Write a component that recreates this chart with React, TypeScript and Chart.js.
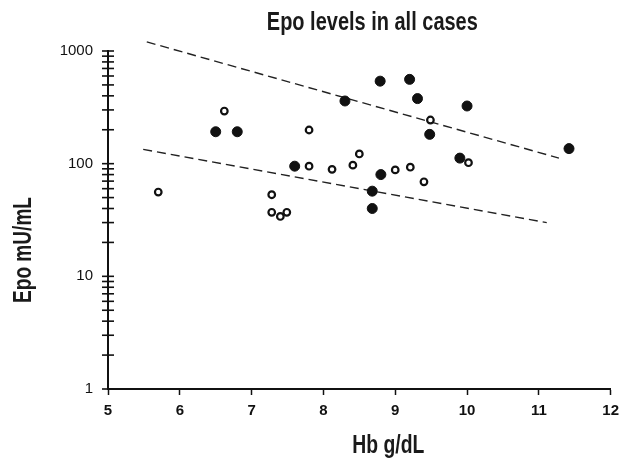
import React, { useEffect, useRef } from "react";
import { Chart, registerables } from "chart.js";

Chart.register(...registerables);

// ---- data ----
const filledHb = [6.5, 6.8, 7.6, 8.3, 8.79, 9.2, 9.31, 10.0, 9.48, 9.9, 11.42, 8.8, 8.68, 8.68];
const filledEpo = [192, 192, 95, 360, 540, 560, 378, 325, 182, 112, 136, 80, 57, 40];
const openHb = [5.7, 6.62, 7.8, 7.8, 8.12, 8.41, 8.5, 9.0, 9.21, 9.4, 9.49, 10.02, 7.28, 7.28, 7.4, 7.49];
const openEpo = [56, 293, 199, 95, 89, 97, 122, 88, 93, 69, 244, 102, 53, 37, 34, 37];
const upperHb = [5.54, 11.28];
const upperEpo = [1205, 112];
const lowerHb = [5.49, 11.11];
const lowerEpo = [134, 30];
const yTickValues = [
  1, 2, 3, 4, 5, 6, 7, 8, 9,
  10, 20, 30, 40, 50, 60, 70, 80, 90,
  100, 200, 300, 400, 500, 600, 700, 800, 900,
  1000,
];
const yLabelValues = [1, 10, 100, 1000];
const xTickValues = [5, 6, 7, 8, 9, 10, 11, 12];
const chartTitle = "Epo levels in all cases";
const xTitle = "Hb g/dL";
const yTitle = "Epo mU/mL";

const FONT = '"Liberation Sans", Arial, "DejaVu Sans", sans-serif';

function drawCondensed(
  ctx: CanvasRenderingContext2D,
  text: string,
  x: number,
  y: number,
  targetWidth: number,
  rotate: boolean
) {
  ctx.save();
  ctx.font = `bold 25px ${FONT}`;
  ctx.fillStyle = "#1a1a1a";
  ctx.textAlign = "center";
  ctx.textBaseline = "alphabetic";
  const w = ctx.measureText(text).width;
  ctx.translate(x, y);
  if (rotate) ctx.rotate(-Math.PI / 2);
  ctx.scale(targetWidth / w, 1);
  ctx.fillText(text, 0, 0);
  ctx.restore();
}

const decorPlugin = {
  id: "decor",
  afterDraw(chart: any) {
    const ctx: CanvasRenderingContext2D = chart.ctx;
    const ys = chart.scales.y;
    const left = chart.chartArea.left;
    ctx.save();
    ctx.strokeStyle = "#111";
    ctx.lineWidth = 1.6;
    yTickValues.forEach((v) => {
      const py = ys.getPixelForValue(v);
      ctx.beginPath();
      ctx.moveTo(left - 6, py);
      ctx.lineTo(left + 6, py);
      ctx.stroke();
    });
    ctx.restore();
    const area = chart.chartArea;
    const cx = (area.left + area.right) / 2;
    drawCondensed(ctx, chartTitle, cx + 13, 30, 211, false);
    drawCondensed(ctx, xTitle, cx + 29, 453, 72, false);
    drawCondensed(ctx, yTitle, 31, (area.top + area.bottom) / 2 + 30, 106, true);
  },
};

export default function App() {
  const ref = useRef<HTMLCanvasElement>(null);
  useEffect(() => {
    document.body.style.margin = "0";
    const canvas = ref.current!;
    const chart = new Chart(canvas, {
      type: "scatter",
      data: {
        datasets: [
          {
            label: "open",
            data: openHb.map((x, i) => ({ x, y: openEpo[i] })),
            pointRadius: 3.3,
            pointBorderWidth: 2.2,
            pointBackgroundColor: "#fff",
            pointBorderColor: "#111",
            backgroundColor: "#fff",
            borderColor: "#111",
          },
          {
            label: "filled",
            data: filledHb.map((x, i) => ({ x, y: filledEpo[i] })),
            pointRadius: 5,
            pointBorderWidth: 1,
            pointBackgroundColor: "#111",
            pointBorderColor: "#111",
            backgroundColor: "#111",
            borderColor: "#111",
          },
          {
            label: "upper",
            data: upperHb.map((x, i) => ({ x, y: upperEpo[i] })),
            showLine: true,
            pointRadius: 0,
            borderColor: "#222",
            borderWidth: 1.4,
            borderDash: [9, 5],
            clip: false,
          } as any,
          {
            label: "lower",
            data: lowerHb.map((x, i) => ({ x, y: lowerEpo[i] })),
            showLine: true,
            pointRadius: 0,
            borderColor: "#222",
            borderWidth: 1.4,
            borderDash: [9, 5],
            clip: false,
          } as any,
        ],
      },
      options: {
        responsive: false,
        devicePixelRatio: 1,
        animation: false,
        layout: { padding: { top: 51, right: 11, left: 0, bottom: 0 } },
        plugins: {
          legend: { display: false },
          tooltip: { enabled: false },
          title: { display: false },
        },
        scales: {
          x: {
            type: "linear",
            min: 5,
            max: 12,
            afterBuildTicks: (s: any) => {
              s.ticks = xTickValues.map((v) => ({ value: v }));
            },
            afterFit: (s: any) => {
              s.height = 70;
            },
            grid: {
              drawOnChartArea: false,
              drawTicks: true,
              tickLength: 6,
              color: "#111",
              tickWidth: 1.5,
            },
            border: { display: true, color: "#111", width: 2 },
            ticks: {
              color: "#111",
              font: { family: FONT, size: 15, weight: "bold" },
              padding: 7,
              maxRotation: 0,
              autoSkip: false,
            },
          },
          y: {
            type: "logarithmic",
            min: 1,
            max: 1000,
            afterBuildTicks: (s: any) => {
              s.ticks = yTickValues.map((v) => ({ value: v }));
            },
            afterFit: (s: any) => {
              s.width = 108;
            },
            grid: { drawOnChartArea: false, drawTicks: false, color: "#111" },
            border: { display: true, color: "#111", width: 2 },
            ticks: {
              color: "#111",
              font: { family: FONT, size: 15 },
              padding: 15,
              autoSkip: false,
              callback: (v: any) => (yLabelValues.includes(Number(v)) ? String(v) : ""),
            },
          },
        },
      } as any,
      plugins: [decorPlugin],
    });
    return () => chart.destroy();
  }, []);
  return (
    <div style={{ width: 626, height: 459 }}>
      <canvas ref={ref} width={626} height={459} style={{ display: "block" }} />
    </div>
  );
}
